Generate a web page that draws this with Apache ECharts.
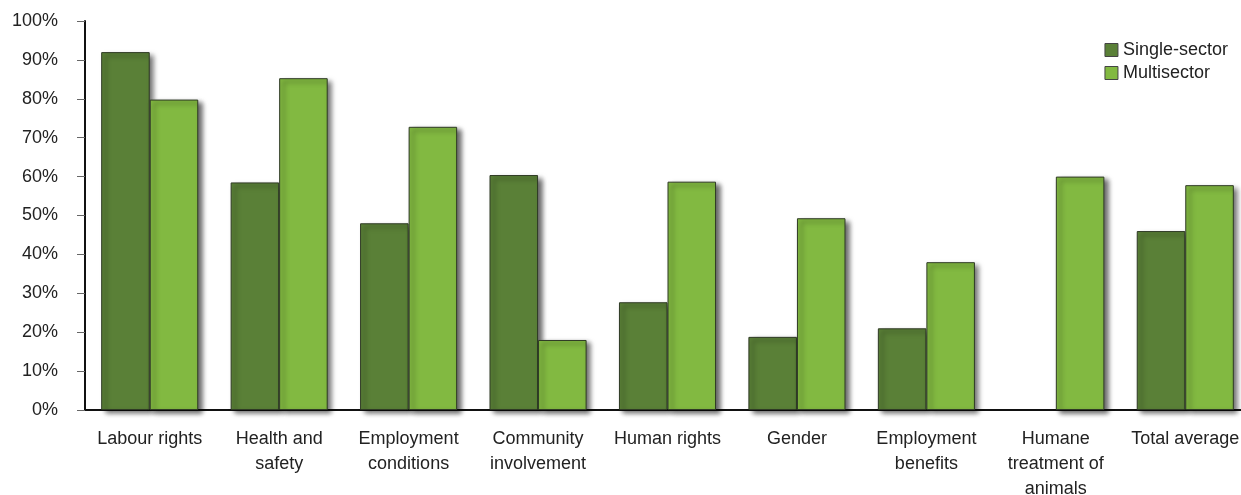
<!DOCTYPE html>
<html><head><meta charset="utf-8">
<script src="https://cdn.jsdelivr.net/npm/echarts@6/dist/echarts.min.js"></script>
<style>html,body{margin:0;padding:0;background:#fff}#c{width:1241px;height:495px}</style>
</head><body><div id="c"></div>
<script>
const categories = ['Labour rights','Health and\nsafety','Employment\nconditions','Community\ninvolvement','Human rights','Gender','Employment\nbenefits','Humane\ntreatment of\nanimals','Total average'];
const singleSector = [92, 58.5, 48, 60.4, 27.7, 18.8, 21, null, 46];
const multiSector = [79.8, 85.3, 72.8, 18, 58.7, 49.3, 38, 60, 57.8];
const yTicks = [0,10,20,30,40,50,60,70,80,90,100];

const chart = echarts.init(document.getElementById('c'));
const font = 'Liberation Sans, Arial, sans-serif';
const barStyle = c => ({color: c, borderColor: '#2f3a25', borderWidth: 1,
  shadowColor: 'rgba(0,0,0,0.6)', shadowBlur: 5, shadowOffsetX: 4, shadowOffsetY: 3});
chart.setOption({
  animation: false,
  textStyle: {fontFamily: font},
  grid: {left: 85, right: -9, top: 21, bottom: 85, outerBoundsMode: 'none', containLabel: false},
  legend: {
    orient: 'vertical', right: 8, top: 36, itemWidth: 13, itemHeight: 13, itemGap: 5,
    icon: 'rect',
    itemStyle: {borderColor: '#444', borderWidth: 1},
    textStyle: {fontSize: 18, color: '#222', fontFamily: font},
    data: ['Single-sector', 'Multisector']
  },
  xAxis: {
    type: 'category', data: categories,
    axisLine: {lineStyle: {color: '#111', width: 2}},
    axisTick: {show: false},
    axisLabel: {fontSize: 18, color: '#222', margin: 17, lineHeight: 25, interval: 0}
  },
  yAxis: {
    type: 'value', min: 0, max: 100, interval: 10,
    axisLine: {show: true, lineStyle: {color: '#111', width: 2}},
    axisTick: {show: true, length: 8, lineStyle: {color: '#666'}},
    splitLine: {show: false},
    axisLabel: {fontSize: 18, color: '#222', margin: 27,
      formatter: v => yTicks.includes(v) ? v + '%' : ''}
  },
  series: [
    {name: 'Single-sector', type: 'bar', data: singleSector, barGap: '0%', barCategoryGap: '25%',
     itemStyle: barStyle('#5a8037')},
    {name: 'Multisector', type: 'bar', data: multiSector, barGap: '0%', barCategoryGap: '25%',
     itemStyle: barStyle('#82b941')}
  ]
});
</script></body></html>
